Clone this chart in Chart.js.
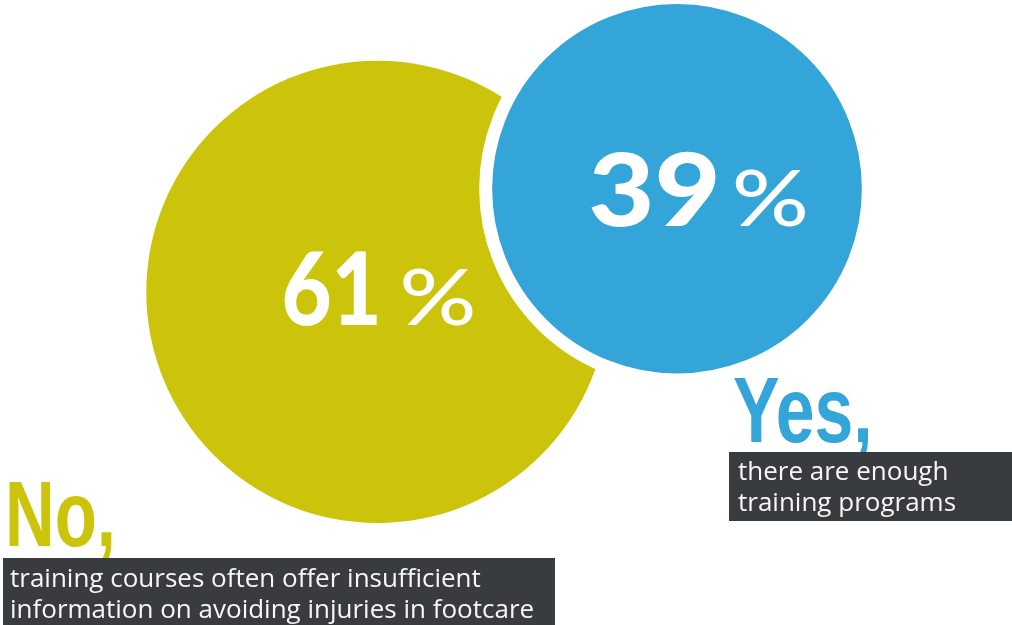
<!DOCTYPE html>
<html>
<head>
<meta charset="utf-8">
<script src="https://cdn.jsdelivr.net/npm/chart.js@4/dist/chart.umd.min.js"></script>
<style>
  html, body { margin: 0; padding: 0; background: #fff; }
  #wrap { width: 1012px; height: 625px; position: relative; }
</style>
</head>
<body>
<div id="wrap"><canvas id="Chart_training"></canvas></div>
<script>
// Survey answers and their shares
const answers = ['No,', 'Yes,'];
const shares = [61, 39];
// Bubble centres on the hidden 0-100 axes
const posX = [37.3, 66.9];
const posY = [46.7, 30.2];
const captions = [
  ['training courses often offer insufficient', 'information on avoiding injuries in footcare'],
  ['there are enough', 'training programs']
];

const colors = ['rgb(204, 196, 10)', 'rgb(51, 165, 216)'];
const rings = [0, 13];          // white ring around the overlapping bubble
const areaScale = 29.6;         // bubble area follows the share

const points = shares.map((s, i) => ({
  x: posX[i],
  y: posY[i],
  r: areaScale * Math.sqrt(s) + rings[i] / 2
}));

// draws text squeezed horizontally by sx
function squeezed(ctx, text, x, y, sx) {
  ctx.save();
  ctx.translate(x, y);
  ctx.scale(sx, 1);
  ctx.fillText(text, 0, 0);
  ctx.restore();
}

// draws text so its visible ink starts at x and spans width w
function fitInk(ctx, text, x, y, w) {
  const m = ctx.measureText(text);
  const ink = m.actualBoundingBoxLeft + m.actualBoundingBoxRight;
  const sx = w / ink;
  ctx.save();
  ctx.translate(x, y);
  ctx.scale(sx, 1);
  ctx.fillText(text, m.actualBoundingBoxLeft, 0);
  ctx.restore();
}

const labelPlugin = {
  id: 'shareLabels',
  afterDatasetsDraw(chart) {
    const ctx = chart.ctx;
    const meta = chart.getDatasetMeta(0);
    // number ink width, gap, percent ink width, x shift, baseline shift
    const numStyle = [
      { wNum: 93, gap: 26, wPct: 70, dx: 1, dy: 33 },
      { wNum: 125, gap: 20, wPct: 70, dx: 21, dy: 37 }
    ];

    ctx.save();
    ctx.textBaseline = 'alphabetic';
    ctx.textAlign = 'left';
    ctx.fillStyle = '#fff';

    // big percentage inside each bubble
    meta.data.forEach((pt, i) => {
      const s = numStyle[i];
      const total = s.wNum + s.gap + s.wPct;
      const x0 = pt.x + s.dx - total / 2;
      const base = pt.y + s.dy;
      ctx.font = '900 101px Lato';
      fitInk(ctx, String(shares[i]), x0, base, s.wNum);
      ctx.font = '500 78px Lato';
      fitInk(ctx, '%', x0 + s.wNum + s.gap, base, s.wPct);
    });

    // answer words
    ctx.font = 'bold 93px "Liberation Sans"';
    ctx.fillStyle = colors[0];
    squeezed(ctx, answers[0], 5, 546, 0.74);
    ctx.fillStyle = colors[1];
    squeezed(ctx, answers[1], 733, 442, 0.75);

    // caption boxes
    const boxes = [
      { x: 3, y: 558, w: 552, h: 67, tx: 10, lines: [587, 618] },
      { x: 729, y: 452, w: 283, h: 69, tx: 738, lines: [480, 511] }
    ];
    boxes.forEach((b, i) => {
      ctx.fillStyle = '#383c3f';
      ctx.fillRect(b.x, b.y, b.w, b.h);
      ctx.fillStyle = '#f7f7f7';
      ctx.font = '26px "Open Sans"';
      captions[i].forEach((line, j) => ctx.fillText(line, b.tx, b.lines[j]));
    });
    ctx.restore();
  }
};

const ctx = document.getElementById('Chart_training').getContext('2d');
new Chart(ctx, {
  type: 'bubble',
  data: {
    datasets: [{
      label: 'Enough training programs?',
      data: points,
      backgroundColor: colors,
      borderColor: '#fff',
      borderWidth: rings,
      hoverBorderWidth: rings,
      clip: false
    }]
  },
  options: {
    responsive: true,
    maintainAspectRatio: false,
    animation: false,
    layout: { padding: 0, autoPadding: false },
    scales: {
      x: { type: 'linear', min: 0, max: 100, display: false },
      y: { type: 'linear', min: 0, max: 100, reverse: true, display: false }
    },
    plugins: {
      legend: { display: false },
      tooltip: { enabled: false }
    },
    events: []
  },
  plugins: [labelPlugin]
});
</script>
</body>
</html>
